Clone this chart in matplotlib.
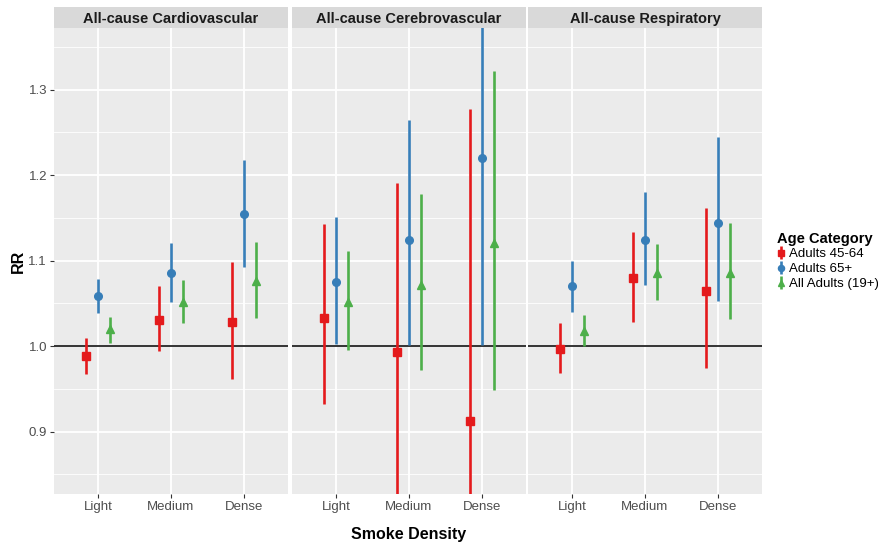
#Smoke density vs relative risk, faceted by outcome

#importing the libraries
import numpy as np
import matplotlib
matplotlib.use('Agg')
import matplotlib.pyplot as plt

plt.rcParams['font.family'] = ['Liberation Sans', 'DejaVu Sans']

#data
densities = ['Light', 'Medium', 'Dense']
outcomes = ['All-cause Cardiovascular', 'All-cause Cerebrovascular', 'All-cause Respiratory']
groups = ['Adults 45-64', 'Adults 65+', 'All Adults (19+)']

#rows: Adults 45-64, Adults 65+, All Adults ; columns: Light, Medium, Dense
cardio_rr = [[0.988, 1.031, 1.028], [1.059, 1.086, 1.154], [1.020, 1.052, 1.076]]
cardio_lo = [[0.967, 0.994, 0.962], [1.039, 1.051, 1.093], [1.004, 1.027, 1.033]]
cardio_hi = [[1.010, 1.070, 1.098], [1.079, 1.121, 1.218], [1.034, 1.077, 1.122]]

cerebro_rr = [[1.033, 0.993, 0.912], [1.075, 1.124, 1.220], [1.052, 1.071, 1.120]]
cerebro_lo = [[0.932, 0.800, 0.720], [1.003, 1.001, 1.001], [0.995, 0.972, 0.949]]
cerebro_hi = [[1.143, 1.191, 1.277], [1.151, 1.264, 1.420], [1.111, 1.178, 1.322]]

resp_rr = [[0.997, 1.080, 1.064], [1.070, 1.124, 1.144], [1.018, 1.086, 1.086]]
resp_lo = [[0.968, 1.028, 0.974], [1.040, 1.072, 1.053], [1.000, 1.054, 1.032]]
resp_hi = [[1.027, 1.133, 1.161], [1.100, 1.180, 1.244], [1.036, 1.119, 1.144]]

panels = [(cardio_rr, cardio_lo, cardio_hi),
          (cerebro_rr, cerebro_lo, cerebro_hi),
          (resp_rr, resp_lo, resp_hi)]

colors = ['#E41A1C', '#377EB8', '#4DAF4A']
markers = ['s', 'o', '^']
msizes = [5.8, 5.5, 6]
dodge = [-0.167, 0, 0.167]

W, H = 879, 543
fig = plt.figure(figsize=(W / 100, H / 100), dpi=100)

lefts = [54, 292, 528]
pw = 234
bottom, top, strip_top = 494, 28, 7

handles = []
for k in range(3):
    ax = fig.add_axes([lefts[k] / W, 1 - bottom / H, pw / W, (bottom - top) / H])
    ax.set_facecolor('#EBEBEB')
    for s in ax.spines.values():
        s.set_visible(False)
    ax.set_xlim(-0.6, 2.6)
    ax.set_ylim(0.827, 1.372)
    ax.set_yticks([0.9, 1.0, 1.1, 1.2, 1.3])
    ax.set_yticks(np.arange(0.85, 1.36, 0.1), minor=True)
    ax.set_xticks(range(3))
    ax.set_xticklabels(densities)
    ax.grid(which='major', color='white', lw=1.3)
    ax.grid(which='minor', axis='y', color='white', lw=0.6)
    ax.set_axisbelow(True)
    ax.tick_params(which='major', length=3, color='#333333', labelcolor='#4D4D4D',
                   labelsize=9.5, pad=2)
    ax.tick_params(which='minor', length=0)
    if k == 0:
        ax.set_yticklabels(['0.9', '1.0', '1.1', '1.2', '1.3'])
        ax.set_ylabel('RR', fontsize=11.5, fontweight='bold', labelpad=2)
    else:
        ax.tick_params(axis='y', which='major', length=0, labelleft=False)
    if k == 1:
        ax.set_xlabel('Smoke Density', fontsize=11.5, fontweight='bold', labelpad=10)

    ax.axhline(1.0, color='#333333', lw=1.4, zorder=2)

    rr, lo, hi = panels[k]
    x = np.arange(3)
    for g in range(3):
        r = np.array(rr[g])
        err = [r - np.array(lo[g]), np.array(hi[g]) - r]
        c = ax.errorbar(x + dodge[g], r, yerr=err, fmt=markers[g], color=colors[g],
                        ecolor=colors[g], elinewidth=1.9, capsize=0, ms=msizes[g],
                        mec=colors[g], zorder=3)
        if k == 0:
            handles.append(c)

    #facet strip
    sax = fig.add_axes([lefts[k] / W, 1 - top / H, pw / W, (top - strip_top) / H])
    sax.set_facecolor('#D9D9D9')
    sax.set_xticks([])
    sax.set_yticks([])
    for s in sax.spines.values():
        s.set_visible(False)
    sax.text(0.5, 0.45, outcomes[k], ha='center', va='center', fontsize=10.5,
             fontweight='bold', color='#1A1A1A', transform=sax.transAxes)

leg = fig.legend(handles, groups, title='Age Category', loc='upper left',
                 bbox_to_anchor=(770 / W, 1 - 225 / H), frameon=False,
                 fontsize=9.5, title_fontproperties={'weight': 'bold', 'size': 10.5},
                 handlelength=0.6, handletextpad=0.35, labelspacing=0.2,
                 markerscale=0.8, borderpad=0, alignment='left')

plt.savefig('out.png', dpi=100)
